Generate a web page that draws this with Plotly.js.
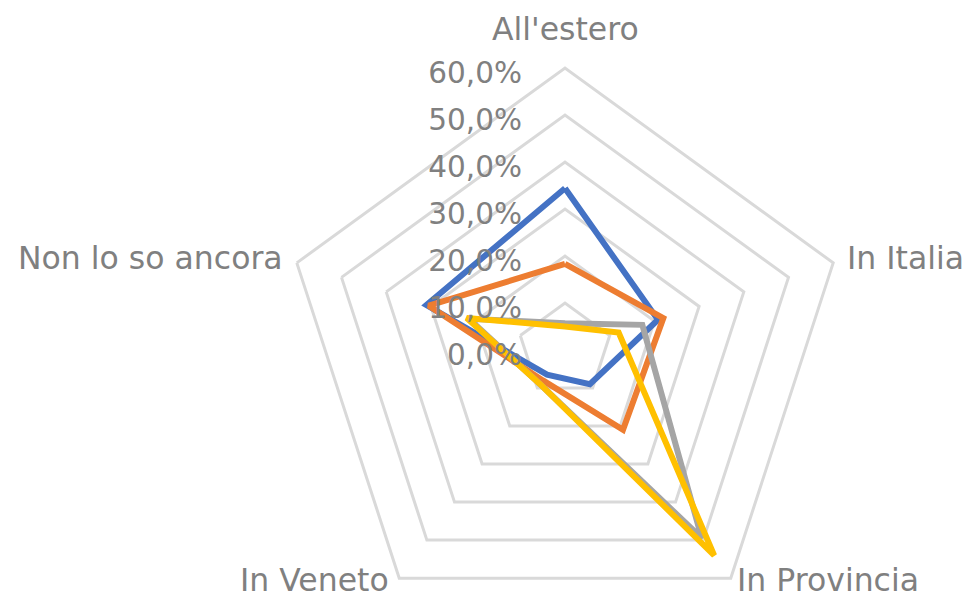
<!DOCTYPE html>
<html>
<head>
<meta charset="utf-8">
<script src="https://cdn.plot.ly/plotly-3.0.1.min.js"></script>
<style>
  html, body { margin: 0; padding: 0; overflow: hidden; background: #fff; }
</style>
</head>
<body>
<div id="chart"></div>
<script>
// categorie dell'asse angolare (in senso orario dall'alto)
var categorie = ["All'estero", "In Italia", "In Provincia", "In Veneto", "Non lo so ancora"];
// valori (frazioni)
var serieBlu = [0.344, 0.208, 0.090, 0.065, 0.310];
var serieArancio = [0.183, 0.220, 0.210, 0.080, 0.305];
var serieGrigio = [0.057, 0.173, 0.495, 0.090, 0.215];
var serieGiallo = [0.050, 0.120, 0.540, 0.090, 0.220];
var colori = ["#4472c4", "#ed7d31", "#a5a5a5", "#ffc000"];

var altezza = 700; // piu' alto della finestra: il pentagono scende fino a y=632

// posizione delle etichette delle categorie (pixel), ancoraggio orizzontale e verticale
var etichettePos = [
    [565, 29, "center", "middle"],
    [846, 258, "left", "middle"],
    [736, 599, "left", "bottom"],
    [390, 599, "right", "bottom"],
    [284, 258, "right", "middle"]
];

function chiudi(a) {
    return a.concat([a[0]]);
}

var tutte = [serieBlu, serieArancio, serieGrigio, serieGiallo];
var data = [];
for (var i = 0; i < tutte.length; i++) {
    data.push({
        type: "scatterpolar",
        mode: "lines",
        r: chiudi(tutte[i]),
        theta: chiudi(categorie),
        line: { color: colori[i], width: 6 },
        hoverinfo: "skip"
    });
}

var annotazioni = [];
for (var k = 0; k < categorie.length; k++) {
    annotazioni.push({
        text: categorie[k],
        xref: "paper",
        yref: "paper",
        x: etichettePos[k][0] / 966,
        y: 1 - etichettePos[k][1] / altezza,
        xanchor: etichettePos[k][2],
        yanchor: etichettePos[k][3],
        borderpad: 0,
        showarrow: false,
        font: { size: 31.5, color: "#808080" }
    });
}

var layout = {
    width: 966,
    height: altezza,
    margin: { l: 0, r: 0, t: 0, b: 0 },
    paper_bgcolor: "#ffffff",
    showlegend: false,
    separators: ",.",
    font: { family: "DejaVu Sans", color: "#808080" },
    annotations: annotazioni,
    polar: {
        domain: { x: [283 / 966, 847 / 966], y: [68 / altezza, 632 / altezza] },
        bgcolor: "rgba(0,0,0,0)",
        gridshape: "linear",
        angularaxis: {
            direction: "clockwise",
            rotation: 90,
            showgrid: false,
            showline: true,
            linecolor: "#d9d9d9",
            linewidth: 3,
            ticks: "",
            showticklabels: false
        },
        radialaxis: {
            range: [0, 0.6],
            dtick: 0.1,
            tickformat: ".1%",
            angle: 90,
            side: "counterclockwise",
            showline: false,
            gridcolor: "#d9d9d9",
            gridwidth: 3,
            ticks: "outside",
            ticklen: 16,
            tickcolor: "rgba(0,0,0,0)",
            tickfont: { size: 29.5, color: "#808080" }
        }
    }
};

Plotly.newPlot("chart", data, layout, { staticPlot: true });
</script>
</body>
</html>
